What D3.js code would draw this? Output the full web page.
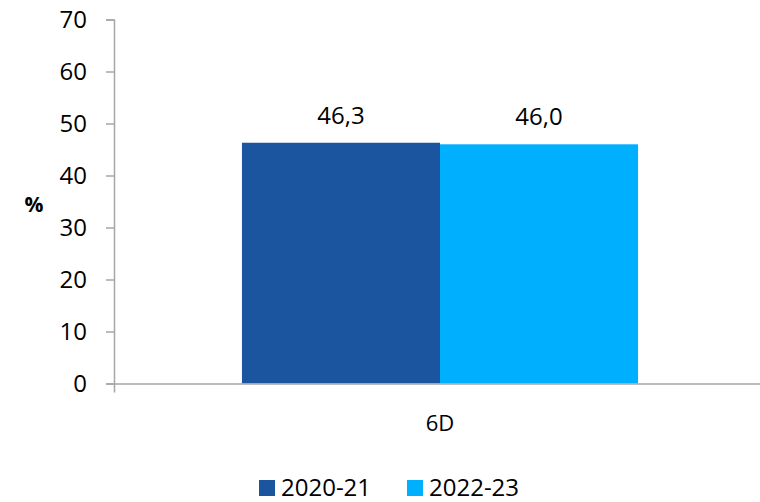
<!DOCTYPE html>
<html>
<head>
<meta charset="utf-8">
<script src="https://cdn.jsdelivr.net/npm/d3@7"></script>
<style>
  body { margin: 0; background: #fff; }
  text { font-family: "Open Sans", sans-serif; fill: #000; }
</style>
</head>
<body>
<svg width="760" height="502"></svg>
<script>
// data
var categories = ["6D"];
var seriesNames = ["2020-21", "2022-23"];
var values2020 = [46.3];
var values2022 = [46.0];
var yTicks = [0, 10, 20, 30, 40, 50, 60, 70];
var colors = ["#1b55a0", "#00b0ff"];

var svg = d3.select("svg");
var plotLeft = 114, plotRight = 766, plotTop = 19.5, plotBottom = 383.5;

var y = d3.scaleLinear().domain([0, 70]).range([plotBottom, plotTop]);
var x0 = d3.scaleBand().domain(categories).range([plotLeft, plotRight]).paddingInner(0).paddingOuter(0.323);
var x1 = d3.scaleBand().domain(seriesNames).range([0, x0.bandwidth()]);

var rows = categories.map(function (c, i) {
  return { cat: c, vals: [values2020[i], values2022[i]] };
});

// bars
var grp = svg.selectAll("g.cat").data(rows).enter().append("g")
  .attr("transform", function (d) { return "translate(" + x0(d.cat) + ",0)"; });

grp.selectAll("rect").data(function (d) { return d.vals; }).enter().append("rect")
  .attr("x", function (d, i) { return x1(seriesNames[i]); })
  .attr("width", x1.bandwidth())
  .attr("y", function (d) { return y(d); })
  .attr("height", function (d) { return plotBottom - y(d); })
  .attr("fill", function (d, i) { return colors[i]; });

grp.selectAll("text.lbl").data(function (d) { return d.vals; }).enter().append("text")
  .attr("class", "lbl")
  .attr("x", function (d, i) { return x1(seriesNames[i]) + x1.bandwidth() / 2; })
  .attr("y", function (d) { return y(d) - 19; })
  .attr("text-anchor", "middle")
  .style("font-size", "24px")
  .text(function (d) { return d.toFixed(1).replace(".", ","); });

// y axis
var yAxis = d3.axisLeft(y).tickValues(yTicks).tickSize(8).tickPadding(19);
var ya = svg.append("g").attr("transform", "translate(" + plotLeft + ",0)").call(yAxis);
ya.select(".domain").attr("stroke", "#a6a6a6").attr("stroke-width", 1.5);
ya.selectAll(".tick line").attr("stroke", "#a6a6a6").attr("stroke-width", 1.5);
ya.selectAll(".tick text").style("font-size", "24px").attr("font-family", null).attr("fill", "#000");

// x axis
var xAxis = d3.axisBottom(x0).tickSize(0).tickPadding(32).tickSizeOuter(9);
var xa = svg.append("g").attr("transform", "translate(0," + plotBottom + ")").call(xAxis);
xa.select(".domain").attr("stroke", "#a6a6a6").attr("stroke-width", 1.5);
xa.selectAll(".tick text").style("font-size", "22px").attr("font-family", null).attr("fill", "#000");

// y title
svg.append("text").attr("x", 34).attr("y", 212).attr("text-anchor", "middle")
  .style("font-size", "21px").style("font-weight", "bold").text("%");

// legend
var legX = [259, 407];
var leg = svg.selectAll("g.leg").data(seriesNames).enter().append("g")
  .attr("transform", function (d, i) { return "translate(" + legX[i] + ",480)"; });
leg.append("rect").attr("width", 16).attr("height", 16).attr("fill", function (d, i) { return colors[i]; });
leg.append("text").attr("x", 22).attr("y", 16).style("font-size", "24px").text(function (d) { return d; });
</script>
</body>
</html>
